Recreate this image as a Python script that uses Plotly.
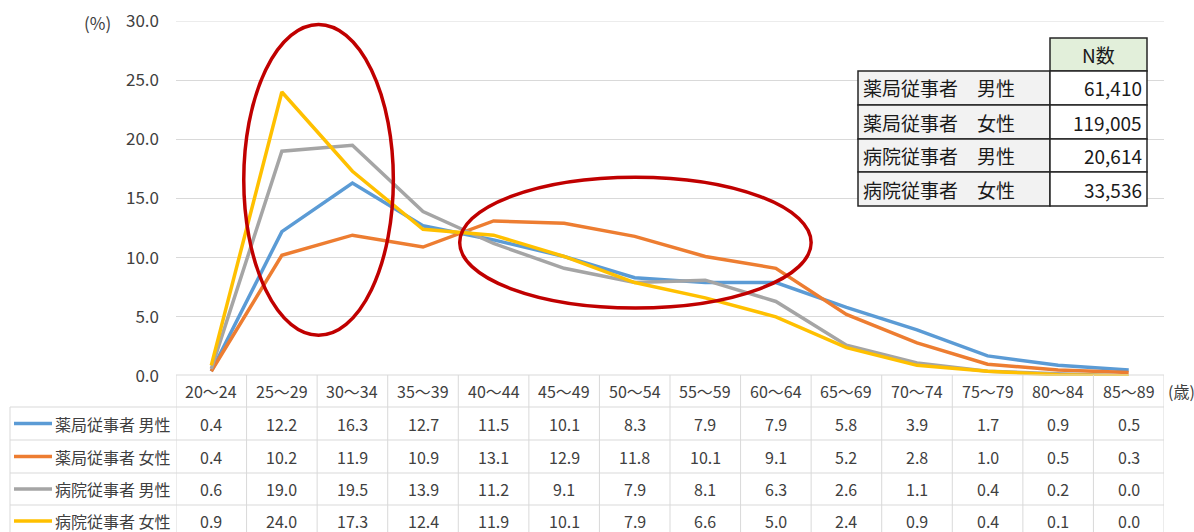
import plotly.graph_objects as go

categories = ["20～24", "25～29", "30～34", "35～39", "40～44", "45～49", "50～54",
              "55～59", "60～64", "65～69", "70～74", "75～79", "80～84", "85～89"]
series_names = ["薬局従事者 男性", "薬局従事者 女性", "病院従事者 男性", "病院従事者 女性"]
pharmacy_male = [0.4, 12.2, 16.3, 12.7, 11.5, 10.1, 8.3, 7.9, 7.9, 5.8, 3.9, 1.7, 0.9, 0.5]
pharmacy_female = [0.4, 10.2, 11.9, 10.9, 13.1, 12.9, 11.8, 10.1, 9.1, 5.2, 2.8, 1.0, 0.5, 0.3]
hospital_male = [0.6, 19.0, 19.5, 13.9, 11.2, 9.1, 7.9, 8.1, 6.3, 2.6, 1.1, 0.4, 0.2, 0.0]
hospital_female = [0.9, 24.0, 17.3, 12.4, 11.9, 10.1, 7.9, 6.6, 5.0, 2.4, 0.9, 0.4, 0.1, 0.0]
colors = ["#5b9bd5", "#ed7d31", "#a5a5a5", "#ffc000"]
y_ticks = [0, 5, 10, 15, 20, 25, 30]
n_labels = ["薬局従事者　男性", "薬局従事者　女性", "病院従事者　男性", "病院従事者　女性"]
n_values = [61410, 119005, 20614, 33536]

all_series = [pharmacy_male, pharmacy_female, hospital_male, hospital_female]

W, H = 1194, 532
L, T = 176, 21
R = W - 1164
B = H - 376
PW, PH = W - L - R, H - T - B
FONT = "Noto Sans CJK JP, Noto Sans, sans-serif"
TXT = "#404040"


def px(x):
    return (x - L) / PW


def py(y):
    return 1 - (y - T) / PH


fig = go.Figure()
xs = list(range(len(categories)))
for name, vals, c in zip(series_names, all_series, colors):
    fig.add_trace(go.Scatter(x=xs, y=vals, mode="lines", name=name,
                             line=dict(color=c, width=3.5), showlegend=False))

shapes = []
annotations = []
grid_c = "#d9d9d9"

# top gridline (the axis hides gridlines on the plot edge)
shapes.append(dict(type="line", xref="paper", yref="y", x0=0, x1=1, y0=30, y1=30,
                   line=dict(color=grid_c, width=1)))

# data table lines
row_edges = [375, 407, 440, 473, 505, 538]
for i in range(len(categories) + 1):
    shapes.append(dict(type="line", xref="x", yref="paper", x0=i - 0.5, x1=i - 0.5,
                       y0=py(row_edges[0]), y1=py(row_edges[-1]),
                       line=dict(color=grid_c, width=1)))
shapes.append(dict(type="line", xref="paper", yref="paper", x0=px(10), x1=px(10),
                   y0=py(row_edges[1]), y1=py(row_edges[-1]), line=dict(color=grid_c, width=1)))
for k, e in enumerate(row_edges):
    x0 = px(176) if k == 0 else px(10)
    shapes.append(dict(type="line", xref="paper", yref="paper", x0=x0, x1=1,
                       y0=py(e), y1=py(e), line=dict(color=grid_c, width=1)))

# header labels
for i, c in enumerate(categories):
    annotations.append(dict(x=i, y=py(391), xref="x", yref="paper", text=c, showarrow=False,
                            xanchor="center", yanchor="middle",
                            font=dict(size=16, color=TXT, family=FONT)))
annotations.append(dict(x=px(1166), y=py(391), xref="paper", yref="paper", text="(歳)",
                        showarrow=False, xanchor="left", yanchor="middle",
                        font=dict(size=16, color=TXT, family=FONT)))

row_centers = [423.5, 456.5, 489, 521]
for r, (name, vals, c) in enumerate(zip(series_names, all_series, colors)):
    yc = py(row_centers[r])
    shapes.append(dict(type="line", xref="paper", yref="paper", x0=px(14), x1=px(52),
                       y0=yc, y1=yc, line=dict(color=c, width=3.5)))
    annotations.append(dict(x=px(173), y=yc, xref="paper", yref="paper", text=name,
                            showarrow=False, xanchor="right", yanchor="middle",
                            font=dict(size=16, color=TXT, family=FONT)))
    for i, v in enumerate(vals):
        annotations.append(dict(x=i, y=yc, xref="x", yref="paper", text=f"{v:.1f}",
                                showarrow=False, xanchor="center", yanchor="middle",
                                font=dict(size=16, color=TXT, family=FONT)))

# (%) label
annotations.append(dict(x=px(113), y=py(22), xref="paper", yref="paper", text="(%)",
                        showarrow=False, xanchor="right", yanchor="middle",
                        font=dict(size=17, color=TXT, family=FONT)))

# red ellipses
shapes.append(dict(type="circle", xref="x", yref="y", x0=0.46, x1=2.58, y0=3.45, y1=29.7,
                   line=dict(color="#c00000", width=3.5)))
shapes.append(dict(type="circle", xref="x", yref="y", x0=3.52, x1=8.5, y0=5.75, y1=16.8,
                   line=dict(color="#c00000", width=3.5)))

# N table
nx0, nx1, nx2 = 858, 1050, 1147
ny = [38, 71, 105, 139, 172, 206]
NFONT = dict(size=19, color="#1a1a1a", family=FONT)
shapes.append(dict(type="rect", xref="paper", yref="paper", x0=px(nx1), x1=px(nx2),
                   y0=py(ny[0]), y1=py(ny[1]), fillcolor="#e2efda",
                   line=dict(color="#262626", width=1.5)))
annotations.append(dict(x=px((nx1 + nx2) / 2), y=py((ny[0] + ny[1]) / 2), xref="paper", yref="paper",
                        text="N数", showarrow=False, xanchor="center", yanchor="middle", font=NFONT))
for r in range(4):
    y0, y1 = ny[r + 1], ny[r + 2]
    shapes.append(dict(type="rect", xref="paper", yref="paper", x0=px(nx0), x1=px(nx1),
                       y0=py(y0), y1=py(y1), fillcolor="#f2f2f2",
                       line=dict(color="#262626", width=1.5)))
    shapes.append(dict(type="rect", xref="paper", yref="paper", x0=px(nx1), x1=px(nx2),
                       y0=py(y0), y1=py(y1), fillcolor="#ffffff",
                       line=dict(color="#262626", width=1.5)))
    annotations.append(dict(x=px(nx0 + 3), y=py((y0 + y1) / 2), xref="paper", yref="paper",
                            text=n_labels[r], showarrow=False, xanchor="left", yanchor="middle",
                            font=NFONT))
    annotations.append(dict(x=px(nx2 - 3), y=py((y0 + y1) / 2), xref="paper", yref="paper",
                            text=f"{n_values[r]:,}", showarrow=False, xanchor="right",
                            yanchor="middle", font=NFONT))

fig.update_layout(
    width=W, height=H,
    margin=dict(l=L, r=R, t=T, b=B, pad=0, autoexpand=False),
    paper_bgcolor="white", plot_bgcolor="white",
    font=dict(family=FONT, size=16, color=TXT),
    xaxis=dict(range=[-0.5, len(categories) - 0.5], showticklabels=False, showgrid=False,
               zeroline=False, showline=False, fixedrange=True, automargin=False),
    yaxis=dict(range=[0, 30], tickvals=y_ticks,
               tickformat=".1f", showgrid=True, gridcolor=grid_c, gridwidth=1,
               zeroline=False, showline=False, ticks="", ticklabelstandoff=16,
               ticklabeloverflow="allow", automargin=False, fixedrange=True,
               tickfont=dict(size=17, color=TXT, family=FONT)),
    shapes=shapes,
    annotations=annotations,
)

fig.write_html("out.html", config={"displayModeBar": False},
               post_script="document.body.style.margin='0px';document.body.style.overflow='hidden';")
